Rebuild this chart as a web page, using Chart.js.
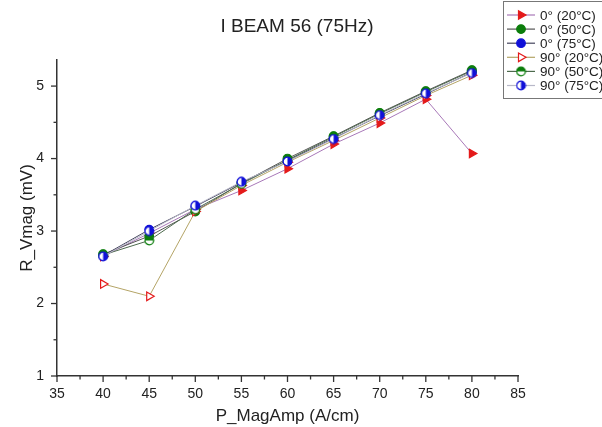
<!DOCTYPE html>
<html>
<head>
<meta charset="utf-8">
<script src="https://cdn.jsdelivr.net/npm/chart.js@4.4.0/dist/chart.umd.min.js"></script>
<style>
  html, body { margin: 0; padding: 0; background: #fff; }
  #wrap { width: 602px; height: 427px; }
</style>
</head>
<body>
<div id="wrap"><canvas id="myChart" width="602" height="427"></canvas></div>
<script>
// Data
var chartTitle = 'I BEAM 56 (75Hz)';
var xTitle = 'P_MagAmp (A/cm)';
var yTitle = 'R_Vmag (mV)';
var magAmp = [40, 45, 50, 55, 60, 65, 70, 75, 80];
var seriesNames = ['0° (20°C)', '0° (50°C)', '0° (75°C)', '90° (20°C)', '90° (50°C)', '90° (75°C)'];
var deg0_20C = [2.65, 2.97, 3.30, 3.56, 3.86, 4.20, 4.49, 4.82, 4.07];
var deg0_50C = [2.68, 2.93, 3.27, 3.66, 4.00, 4.31, 4.63, 4.93, 5.22];
var deg0_75C = [2.66, 3.02, 3.34, 3.67, 3.97, 4.28, 4.59, 4.89, 5.19];
var deg90_20C = [2.27, 2.10, 3.27, 3.63, 3.95, 4.25, 4.56, 4.87, 5.15];
var deg90_50C = [2.67, 2.87, 3.30, 3.65, 3.98, 4.30, 4.62, 4.92, 5.21];
var deg90_75C = [2.65, 3.00, 3.35, 3.68, 3.96, 4.27, 4.60, 4.90, 5.18];
var xTickLabels = [35, 40, 45, 50, 55, 60, 65, 70, 75, 80, 85];
var yTickLabels = [1, 2, 3, 4, 5];

var RED = '#e41a1a', GREEN = '#0b7d0b', BLUE = '#1010d8';

// Marqueurs meio preenchidos (canvas pequenos)
function halfMarker(color, half) {
  var c = document.createElement('canvas');
  c.width = 11; c.height = 11;
  var g = c.getContext('2d');
  var r = 4.3, cx = 5.5, cy = 5.5;
  g.beginPath(); g.arc(cx, cy, r, 0, Math.PI * 2); g.fillStyle = '#fff'; g.fill();
  g.beginPath();
  if (half === 'right') g.arc(cx, cy, r, -Math.PI / 2, Math.PI / 2);
  else g.arc(cx, cy, r, Math.PI, 0);
  g.closePath(); g.fillStyle = color; g.fill();
  g.beginPath(); g.arc(cx, cy, r, 0, Math.PI * 2);
  g.lineWidth = 1.2; g.strokeStyle = color; g.stroke();
  return c;
}
var greenHalf = halfMarker(GREEN, 'top');
var blueHalf = halfMarker(BLUE, 'right');

function pts(vals) {
  return vals.map(function (v, i) { return { x: magAmp[i], y: v }; });
}

var datasets = [
  { label: seriesNames[0], data: pts(deg0_20C), borderColor: '#a878b8', pointBackgroundColor: RED, pointBorderColor: RED,
    pointStyle: 'triangle', rotation: 90, pointRadius: 5 },
  { label: seriesNames[1], data: pts(deg0_50C), borderColor: '#555555', pointBackgroundColor: GREEN, pointBorderColor: GREEN,
    pointStyle: 'circle', pointRadius: 4.3 },
  { label: seriesNames[2], data: pts(deg0_75C), borderColor: '#45455e', pointBackgroundColor: BLUE, pointBorderColor: BLUE,
    pointStyle: 'circle', pointRadius: 4.3 },
  { label: seriesNames[3], data: pts(deg90_20C), borderColor: '#b4a466', pointBackgroundColor: '#fff', pointBorderColor: RED,
    pointStyle: 'triangle', rotation: 90, pointRadius: 5 },
  { label: seriesNames[4], data: pts(deg90_50C), borderColor: '#4d6a4d', pointBackgroundColor: GREEN, pointBorderColor: GREEN,
    pointStyle: greenHalf, pointRadius: 4.3 },
  { label: seriesNames[5], data: pts(deg90_75C), borderColor: '#b8b8c8', pointBackgroundColor: BLUE, pointBorderColor: BLUE,
    pointStyle: blueHalf, pointRadius: 4.3 }
];
datasets.forEach(function (d, i) {
  d.borderWidth = 1;
  d.pointBorderWidth = 1.2;
  d.showLine = true;
  d.tension = 0;
  d.order = datasets.length - i; // ultima serie por cima
});

// Plugin: titulo, tiques e legenda
var extras = {
  id: 'extras',
  afterDraw: function (chart) {
    var ctx = chart.ctx, area = chart.chartArea;
    var xs = chart.scales.x, ys = chart.scales.y;
    ctx.save();
    ctx.strokeStyle = '#333';
    ctx.lineWidth = 1.3;
    xs.ticks.forEach(function (t) {
      var px = xs.getPixelForValue(t.value);
      var major = xTickLabels.indexOf(t.value) >= 0;
      ctx.beginPath(); ctx.moveTo(px, area.bottom); ctx.lineTo(px, area.bottom + (major ? 6 : 3.5)); ctx.stroke();
    });
    ys.ticks.forEach(function (t) {
      var py = ys.getPixelForValue(t.value);
      var major = yTickLabels.indexOf(t.value) >= 0;
      ctx.beginPath(); ctx.moveTo(area.left, py); ctx.lineTo(area.left - (major ? 6 : 3.5), py); ctx.stroke();
    });

    // titulo
    ctx.fillStyle = '#222';
    ctx.font = '19px "Liberation Sans", Arial, sans-serif';
    ctx.textAlign = 'center';
    ctx.textBaseline = 'middle';
    ctx.fillText(chartTitle, 297, 27);

    // legenda
    ctx.strokeStyle = '#777';
    ctx.lineWidth = 1;
    ctx.strokeRect(503.5, 1.5, 110, 97);
    ctx.font = '13.5px "Liberation Sans", Arial, sans-serif';
    ctx.textAlign = 'left';
    chart.data.datasets.forEach(function (d, i) {
      var y = 15 + i * 14.1;
      ctx.strokeStyle = d.borderColor;
      ctx.lineWidth = 1.2;
      ctx.beginPath(); ctx.moveTo(507, y); ctx.lineTo(535, y); ctx.stroke();
      ctx.fillStyle = d.pointBackgroundColor;
      ctx.strokeStyle = d.pointBorderColor;
      Chart.helpers.drawPoint(ctx, { pointStyle: d.pointStyle, rotation: d.rotation || 0, radius: d.pointRadius, borderWidth: 1.2 }, 521, y);
      ctx.fillStyle = '#222';
      ctx.fillText(d.label, 540, y + 1);
    });
    ctx.restore();
  }
};

var ctx = document.getElementById('myChart').getContext('2d');
var myChart = new Chart(ctx, {
  type: 'scatter',
  data: { datasets: datasets },
  options: {
    responsive: false,
    animation: false,
    layout: { padding: { top: 60, right: 84, left: 0, bottom: 0 } },
    plugins: { legend: { display: false }, title: { display: false }, tooltip: { enabled: false } },
    scales: {
      x: {
        type: 'linear', min: 35, max: 85,
        grid: { display: false, drawTicks: false },
        border: { display: true, color: '#333', width: 1.5 },
        afterFit: function (s) { s.height = 51; },
        ticks: {
          stepSize: 2.5, autoSkip: false, maxRotation: 0, padding: 10, color: '#222',
          font: { size: 14, family: '"Liberation Sans", Arial, sans-serif' },
          callback: function (v) { return xTickLabels.indexOf(v) >= 0 ? String(v) : ''; }
        },
        title: { display: true, text: xTitle, color: '#222', padding: 0,
          font: { size: 17, family: '"Liberation Sans", Arial, sans-serif' } }
      },
      y: {
        type: 'linear', min: 1, max: 5.36,
        grid: { display: false, drawTicks: false },
        border: { display: true, color: '#333', width: 1.5 },
        afterFit: function (s) { s.width = 57; },
        afterBuildTicks: function (s) {
          s.ticks = s.ticks.filter(function (t) { return Math.abs(t.value * 2 - Math.round(t.value * 2)) < 1e-6; });
        },
        ticks: {
          stepSize: 0.5, autoSkip: false, padding: 13, color: '#222',
          font: { size: 14, family: '"Liberation Sans", Arial, sans-serif' },
          callback: function (v) { return yTickLabels.indexOf(v) >= 0 ? String(v) : ''; }
        },
        title: { display: true, text: yTitle, color: '#222', padding: { top: 17, bottom: 0 },
          font: { size: 17, family: '"Liberation Sans", Arial, sans-serif' } }
      }
    }
  },
  plugins: [extras]
});
</script>
</body>
</html>
